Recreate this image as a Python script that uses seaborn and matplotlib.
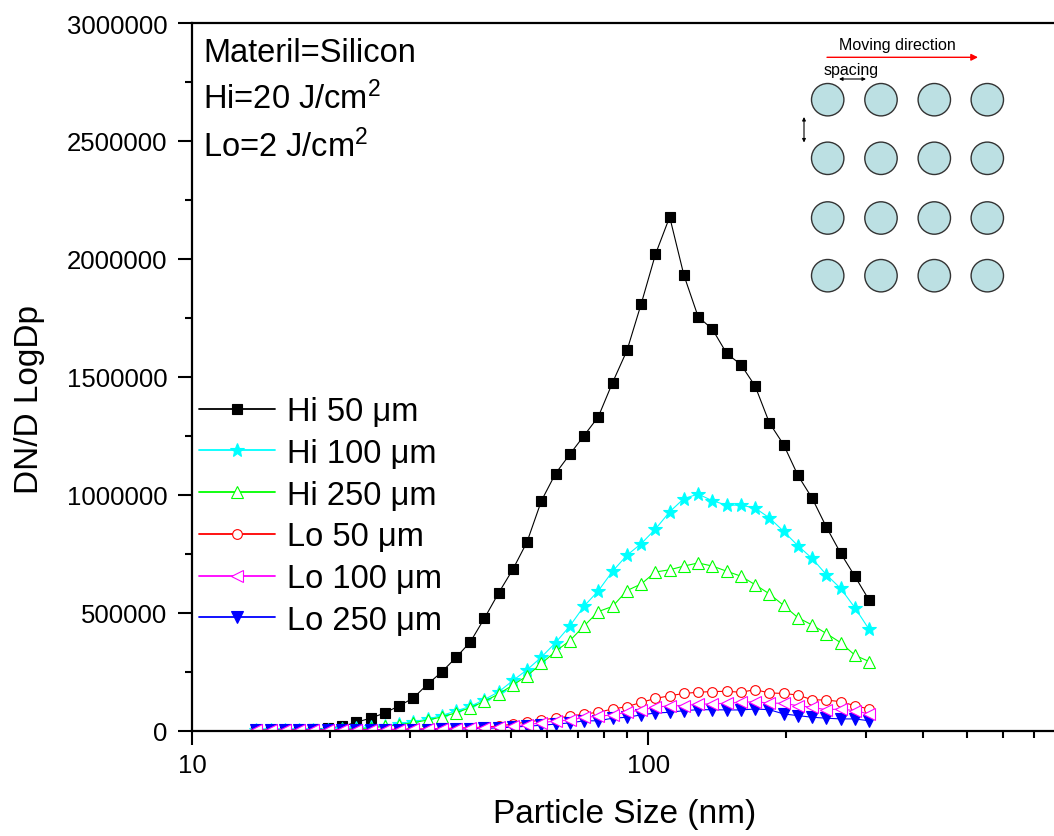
import numpy as np
import pandas as pd
import matplotlib
matplotlib.use("Agg")
import matplotlib.pyplot as plt
from matplotlib.patches import Circle
from matplotlib.ticker import FixedLocator, FuncFormatter, MultipleLocator
import seaborn as sns

# Particle size bins (nm), SMPS channel midpoints
particle_size = [13.8, 14.9, 16.0, 17.1, 18.4, 19.8, 21.3, 22.9, 24.6, 26.4,
                 28.4, 30.5, 32.8, 35.2, 37.9, 40.7, 43.7, 47.0, 50.5, 54.2,
                 58.3, 62.6, 67.3, 72.3, 77.7, 83.5, 89.8, 96.5, 103.7, 111.4,
                 119.7, 128.6, 138.2, 148.6, 159.6, 171.5, 184.3, 198.1, 212.9, 228.8,
                 245.8, 264.2, 283.9, 305.1]

hi_50 = [2000, 3000, 4000, 5000, 7000, 10000, 18000, 36000, 53000, 75000,
         105000, 138000, 197000, 248000, 311000, 376000, 476000, 585000, 685000, 800000,
         975000, 1090000, 1172000, 1251000, 1331000, 1476000, 1612000, 1810000, 2020000, 2178000,
         1931000, 1755000, 1702000, 1599000, 1552000, 1461000, 1305000, 1212000, 1082000, 985000,
         863000, 752000, 654000, 553000]
hi_100 = [2000, 2000, 3000, 3000, 4000, 5000, 7000, 10000, 14000, 21000,
          28000, 38000, 49000, 64000, 84000, 103000, 132000, 165000, 213000, 258000,
          312000, 373000, 444000, 528000, 593000, 676000, 744000, 793000, 855000, 928000,
          984000, 1003000, 975000, 956000, 956000, 944000, 902000, 845000, 784000, 730000,
          661000, 603000, 521000, 429000]
hi_250 = [2000, 2000, 2000, 3000, 3000, 4000, 6000, 8000, 12000, 18000,
          25000, 34000, 45000, 58000, 76000, 98000, 124000, 156000, 194000, 232000,
          285000, 336000, 382000, 444000, 505000, 527000, 594000, 622000, 673000, 682000,
          698000, 711000, 698000, 676000, 655000, 619000, 580000, 531000, 479000, 448000,
          412000, 373000, 320000, 293000]
lo_50 = [2000, 2000, 2000, 3000, 3000, 3000, 4000, 4000, 5000, 5000,
         6000, 7000, 8000, 9000, 11000, 13000, 15000, 20000, 28000, 37000,
         45000, 54000, 61000, 71000, 78000, 92000, 102000, 120000, 137000, 148000,
         158000, 163000, 166000, 167000, 163000, 174000, 160000, 158000, 151000, 131000,
         130000, 123000, 106000, 92000]
lo_100 = [2000, 2000, 2000, 2000, 3000, 3000, 3000, 4000, 4000, 5000,
          5000, 6000, 7000, 8000, 9000, 11000, 13000, 16000, 20000, 26000,
          33000, 42000, 44000, 57000, 61000, 67000, 78000, 88000, 99000, 106000,
          106000, 113000, 113000, 117000, 120000, 123000, 117000, 116000, 106000, 99000,
          89000, 92000, 85000, 71000]
lo_250 = [1000, 1000, 1000, 2000, 2000, 2000, 2000, 3000, 3000, 3000,
          4000, 4000, 5000, 6000, 7000, 8000, 10000, 12000, 15000, 19000,
          23000, 28000, 33000, 42000, 42000, 53000, 57000, 67000, 75000, 78000,
          85000, 89000, 89000, 88000, 88000, 92000, 89000, 71000, 64000, 57000,
          53000, 50000, 50000, 42000]

series_labels = ["Hi 50 \u03bcm", "Hi 100 \u03bcm", "Hi 250 \u03bcm",
                 "Lo 50 \u03bcm", "Lo 100 \u03bcm", "Lo 250 \u03bcm"]
series_values = [hi_50, hi_100, hi_250, lo_50, lo_100, lo_250]

y_ticks = [0, 500000, 1000000, 1500000, 2000000, 2500000, 3000000]

info_lines = ["Materil=Silicon", "Hi=20 J/cm$^2$", "Lo=2 J/cm$^2$"]

sns.set_style("ticks")
plt.rcParams["font.family"] = ["Liberation Sans", "DejaVu Sans"]
plt.rcParams["mathtext.fontset"] = "custom"
plt.rcParams["mathtext.rm"] = "Liberation Sans"
plt.rcParams["mathtext.it"] = "Liberation Sans:italic"
plt.rcParams["mathtext.bf"] = "Liberation Sans:bold"
plt.rcParams["text.color"] = "black"
plt.rcParams["axes.labelcolor"] = "black"
plt.rcParams["xtick.color"] = "black"
plt.rcParams["ytick.color"] = "black"

W, H = 1054, 837
fig = plt.figure(figsize=(W / 100, H / 100), dpi=100)
ax = fig.add_axes([192.3 / W, 1 - 731.7 / H, (W - 192.3) / W, (731.7 - 24) / H])

styles = [
    dict(color="#000000", marker="s", markersize=7.4, markerfacecolor="#000000", z=2.0),
    dict(color="#00FFFF", marker="*", markersize=10.5, markerfacecolor="#00FFFF", z=2.1),
    dict(color="#00FF00", marker="^", markersize=8.5, markerfacecolor="white", z=2.2),
    dict(color="#FF0000", marker="o", markersize=7.0, markerfacecolor="white", z=2.3),
    dict(color="#FF00FF", marker="<", markersize=8.5, markerfacecolor="white", z=2.5),
    dict(color="#0000FF", marker="v", markersize=8.5, markerfacecolor="#0000FF", z=2.4),
]

df = pd.DataFrame({"size": particle_size})
for label, vals, st in zip(series_labels, series_values, styles):
    df[label] = vals
    sns.lineplot(data=df, x="size", y=label, ax=ax, label=label,
                 color=st["color"], marker=st["marker"], markersize=st["markersize"],
                 markerfacecolor=st["markerfacecolor"], markeredgecolor=st["color"],
                 markeredgewidth=0.8, linewidth=0.8, estimator=None, zorder=st["z"])

ax.set_xscale("log")
ax.set_xlim(10, 10 ** (1 + (W - 192.3) / 456))
ax.set_ylim(0, 3000000)

ax.xaxis.set_major_locator(FixedLocator([10, 100, 1000]))
ax.xaxis.set_minor_locator(FixedLocator([20, 30, 40, 50, 60, 70, 80, 90,
                                         200, 300, 400, 500, 600, 700, 800, 900]))
ax.xaxis.set_major_formatter(FuncFormatter(lambda v, p: f"{v:g}"))
ax.xaxis.set_minor_formatter(FuncFormatter(lambda v, p: ""))
ax.yaxis.set_major_locator(FixedLocator(y_ticks))
ax.yaxis.set_minor_locator(MultipleLocator(250000))
ax.yaxis.set_major_formatter(FuncFormatter(lambda v, p: f"{int(v)}"))

ax.tick_params(which="major", direction="out", length=10, width=1.5, labelsize=18.5,
               color="black", labelcolor="black")
ax.tick_params(axis="y", which="major", pad=8)
ax.tick_params(axis="x", which="major", pad=6)
ax.tick_params(which="minor", direction="out", length=5, width=1.5, color="black")

for side in ["left", "bottom", "top"]:
    ax.spines[side].set_linewidth(1.6)
    ax.spines[side].set_color("black")
ax.spines["right"].set_visible(False)

ax.set_xlabel("Particle Size (nm)", fontsize=24, color="black")
ax.set_ylabel("DN/D LogDp", fontsize=24, color="black")
ax.xaxis.set_label_coords(0.502, -0.0947)
ax.yaxis.set_label_coords(-0.171, 0.469)

handles, labels = ax.get_legend_handles_labels()
leg = ax.legend(handles, labels, loc="upper left",
                bbox_to_anchor=(199 / W, 1 - 397 / H), bbox_transform=fig.transFigure,
                frameon=False, borderpad=0, borderaxespad=0, handlelength=2.33,
                handletextpad=0.36, labelspacing=0.33, fontsize=23.5)
for t in leg.get_texts():
    t.set_color("black")
for h in leg.legend_handles:
    h.set_linewidth(1.3)

# Overlay in pixel units for the annotation text and the spot-pattern sketch
ov = fig.add_axes([0, 0, 1, 1], zorder=5)
ov.set_xlim(0, W)
ov.set_ylim(H, 0)
ov.axis("off")
ov.patch.set_alpha(0)

for i, line in enumerate(info_lines):
    ov.text(203, 61.7 + i * 47.5, line, fontsize=23.5, va="baseline", ha="left",
            color="black")

ov.text(897, 45, "Moving direction", fontsize=11.5, ha="center", va="center",
        color="black")
ov.annotate("", xy=(978, 58.3), xytext=(827, 58.3),
            arrowprops=dict(arrowstyle="-|>", color="red", lw=1.0,
                            mutation_scale=10, shrinkA=0, shrinkB=0))
ov.text(851.5, 70, "spacing", fontsize=11.5, ha="center", va="center", color="black")
ov.annotate("", xy=(866, 80), xytext=(839, 80),
            arrowprops=dict(arrowstyle="<|-|>", color="black", lw=0.8,
                            mutation_scale=5, shrinkA=0, shrinkB=0))
ov.annotate("", xy=(804, 143.5), xytext=(804, 118),
            arrowprops=dict(arrowstyle="<|-|>", color="black", lw=0.8,
                            mutation_scale=5, shrinkA=0, shrinkB=0))

for cy in [100.7, 159.3, 219.0, 276.7]:
    for cx in [827.7, 881.0, 934.3, 987.3]:
        ov.add_patch(Circle((cx, cy), 16.2, facecolor="#BCE0E3",
                            edgecolor="#333333", linewidth=1.0))

fig.savefig("out.png", dpi=100)
